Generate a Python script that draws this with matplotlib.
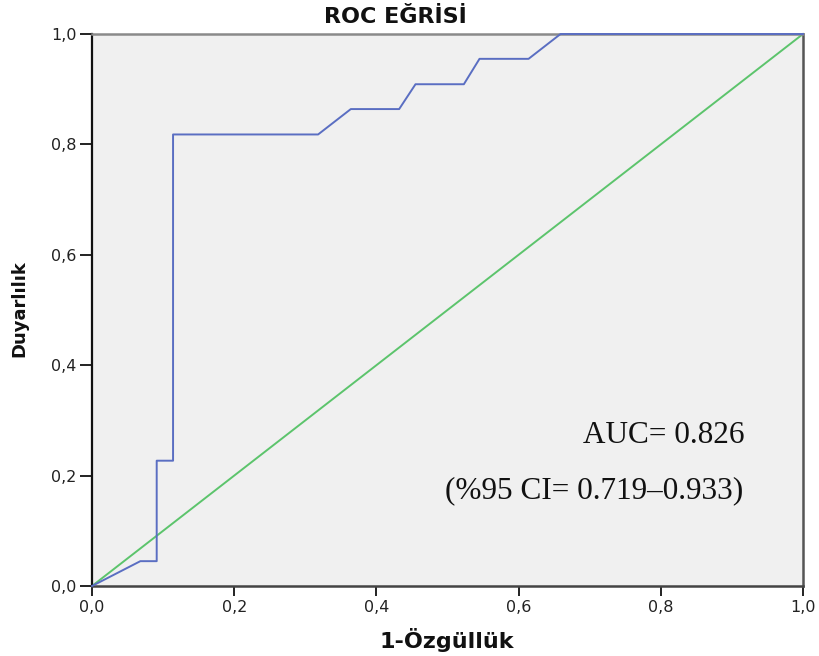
import matplotlib
matplotlib.use("Agg")
import matplotlib.pyplot as plt

# ---- data ----
fpr = [0.0, 0.068, 0.091, 0.091, 0.114, 0.114, 0.318, 0.364, 0.432, 0.455,
       0.523, 0.545, 0.614, 0.659, 1.0]
tpr = [0.0, 0.045, 0.045, 0.227, 0.227, 0.818, 0.818, 0.864, 0.864, 0.909,
       0.909, 0.955, 0.955, 1.0, 1.0]
ref_x = [0.0, 1.0]
ref_y = [0.0, 1.0]
tick_vals = [0.0, 0.2, 0.4, 0.6, 0.8, 1.0]
tick_labels = ["0,0", "0,2", "0,4", "0,6", "0,8", "1,0"]
title = "ROC EĞRİSİ"
xlabel = "1-Özgüllük"
ylabel = "Duyarlılık"
auc_text = "AUC= 0.826"
ci_text = "(%95 CI= 0.719–0.933)"

W, H = 819, 656
fig = plt.figure(figsize=(W / 100, H / 100), dpi=100)
fig.patch.set_facecolor("white")
ax = fig.add_axes([92 / W, (H - 586) / H, (803 - 92) / W, (586 - 34) / H])
ax.set_facecolor("#f0f0f0")

ax.plot(ref_x, ref_y, color="#5cc46c", lw=1.4, zorder=2, clip_on=False)
ax.plot(fpr, tpr, color="#5a6ec2", lw=1.4, zorder=3, clip_on=False)

ax.set_xlim(0, 1)
ax.set_ylim(0, 1)
ax.set_xticks(tick_vals)
ax.set_xticklabels(tick_labels)
ax.set_yticks(tick_vals)
ax.set_yticklabels(tick_labels)

for lab in ax.get_xticklabels() + ax.get_yticklabels():
    lab.set_fontfamily("DejaVu Sans")
    lab.set_fontsize(11.5)
    lab.set_color("#222222")

ax.tick_params(axis="y", direction="out", length=9, width=1.4, pad=2, color="#222222")
ax.tick_params(axis="x", direction="out", length=7, width=1.4, pad=3, color="#222222")

ax.spines["left"].set_color("#111111")
ax.spines["left"].set_linewidth(1.6)
ax.spines["bottom"].set_color("#444444")
ax.spines["bottom"].set_linewidth(1.8)
ax.spines["top"].set_color("#8a8a8a")
ax.spines["top"].set_linewidth(1.8)
ax.spines["right"].set_color("#555555")
ax.spines["right"].set_linewidth(1.8)

# titles / labels
fig.text(395 / W, 1 - 23 / H, title, ha="center", va="baseline",
         fontsize=16, fontweight="bold", family="DejaVu Sans", color="#111111")
fig.text(447 / W, (H - 648) / H, xlabel, ha="center", va="baseline",
         fontsize=16, fontweight="bold", family="DejaVu Sans", color="#111111")
fig.text(19 / W, (H - 309) / H, ylabel, ha="center", va="center", rotation=90,
         fontsize=13, fontweight="bold", family="DejaVu Sans", color="#111111")

# annotations
ax.text(0.918, 0.259, auc_text, transform=ax.transAxes, ha="right", va="baseline",
        fontsize=22.5, family="Liberation Serif", color="#111111")
ax.text(0.916, 0.159, ci_text, transform=ax.transAxes, ha="right", va="baseline",
        fontsize=22.5, family="Liberation Serif", color="#111111")

fig.savefig("out.png", dpi=100)
